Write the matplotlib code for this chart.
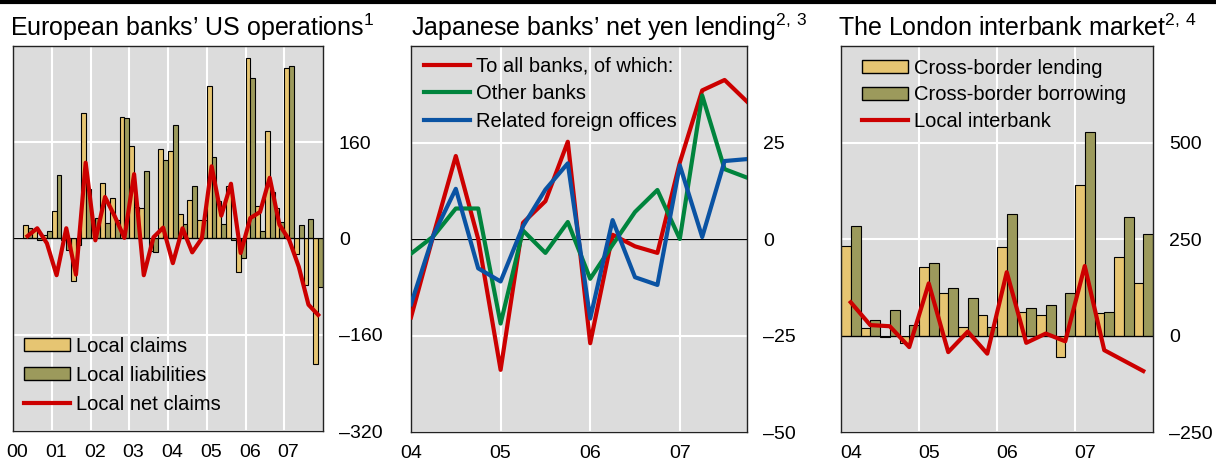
import matplotlib
matplotlib.use('Agg')
from matplotlib import pyplot as plt
from matplotlib.lines import Line2D
from matplotlib.patches import Patch
import numpy as np
import pandas as pd

plt.rcParams['font.family'] = ['Liberation Sans', 'DejaVu Sans']
plt.rcParams['mathtext.fontset'] = 'custom'
plt.rcParams['mathtext.rm'] = 'Liberation Sans'
plt.rcParams['mathtext.default'] = 'regular'

# --- European banks' US operations (quarterly, 2000Q2-2007Q4) ---
eu_quarters = pd.period_range('2000Q2', '2007Q4', freq='Q')
eu_claims = [22, 14, 5.5, 45, -2, -70, 208, 31, 93, 67, 202, 153, 50, -20, 148,
             146, 41, 64, 30, 254, 62, 88, -56, 300, 54, 179, 50, 283, -26, -78, -209]
eu_liabs = [17, -3, 13, 106, -19, -10, 82, 34, 26, 30, 201, 52, 112, -23, 131,
            188, 24, 88, 30, 135, 24, -3, -32, 267, 13, 78, 27, 286, 23, 32, -81]
eu_net = [4, 17, -8, -61, 17, -60, 126, -3, 69, 37, 1, 107, -61, 2, 18,
          -41, 17, -23, 0.5, 120, 38, 91, -24, 34, 44, 101, 23, -2, -47, -110, -127]
eu_years = ['00', '01', '02', '03', '04', '05', '06', '07']

# --- Japanese banks' net yen lending (quarterly, 2004Q1-2007Q4) ---
jp_quarters = pd.period_range('2004Q1', '2007Q4', freq='Q')
jp_all = [-20.3, 1, 21.5, 0, -33.9, 4.2, 9.8, 25.2, -27, 1.1, -1.9, -3.6, 19.8, 38.5, 41.2, 35.6]
jp_other = [-3.8, 0.7, 7.9, 7.9, -21.9, 2.2, -3.6, 4.4, -10.3, -1.5, 7.0, 12.7, 0, 37.2, 18.1, 15.9]
jp_related = [-16.9, 1, 13, -7.6, -11, 3.3, 12.8, 19.6, -20.6, 4.9, -9.9, -11.9, 19.1, 0.5, 20.2, 20.7]
jp_years = ['04', '05', '06', '07']

# --- The London interbank market (quarterly, 2004Q1-2007Q4) ---
ld_quarters = pd.period_range('2004Q1', '2007Q4', freq='Q')
ld_lending = [231, 19, -5, -20, 178, 111, 21, 53, 229, 60, 53, -56, 391, 57, 203, 137]
ld_borrowing = [284, 41, 67, 26, 188, 124, 98, 23, 316, 70, 80, 110, 527, 62, 306, 263]
ld_local = [86, 27, 24, -30, 135, -43, 10, -47, 164, -19, 5, -15, 180, -38, -65, -92]
ld_years = ['04', '05', '06', '07']

C_LIGHT = '#E6C572'
C_OLIVE = '#9C9A5C'
C_RED = '#CC0000'
C_GREEN = '#00843D'
C_BLUE = '#0A53A3'
BG = '#DCDCDC'
W, H = 1216, 465


def qpos(quarters):
    return np.array([p.year + (p.quarter - 1) / 4 for p in quarters])


def fmt(v):
    return str(v).replace('-', '\u2013')


def make_ax(fig, l, r, t, b):
    ax = fig.add_axes([l / W, 1 - b / H, (r - l) / W, (b - t) / H])
    ax.set_facecolor(BG)
    ax.set_axisbelow(True)
    ax.grid(color='white', lw=1.5)
    ax.yaxis.tick_right()
    ax.tick_params(length=0, labelsize=14)
    ax.tick_params(axis='y', pad=11.5)
    ax.tick_params(axis='x', pad=9.5)
    for s in ax.spines.values():
        s.set_color('#222222')
        s.set_linewidth(1)
    ax.axhline(0, color='black', lw=0.9, zorder=2.5)
    return ax


fig = plt.figure(figsize=(W / 100, H / 100), dpi=100)
fig.add_artist(Line2D([0, 1], [0.996, 0.996], color='black', lw=3))

# panel 1
ax1 = make_ax(fig, 13, 323, 46, 431)
x1 = qpos(eu_quarters)
ax1.bar(x1, eu_claims, width=0.125, align='edge', color=C_LIGHT, edgecolor='black', lw=0.8)
ax1.bar(x1 + 0.125, eu_liabs, width=0.125, align='edge', color=C_OLIVE, edgecolor='black', lw=0.8)
ax1.plot(x1 + 0.125, eu_net, color=C_RED, lw=3, zorder=3)
ax1.set_xlim(2000, 2008)
ax1.set_ylim(-320, 320)
yt = [-320, -160, 0, 160]
ax1.set_yticks([-320, -160, 0, 160, 320], [fmt(v) for v in yt] + [''])
ax1.set_xticks(np.arange(2001, 2008), [''] * 7)
ax1.set_xticks(np.arange(2000, 2008) + 0.11, eu_years, minor=True)
ax1.tick_params(which='minor', length=0, labelsize=14, pad=9.5)
ax1.legend(handles=[Patch(facecolor=C_LIGHT, edgecolor='black', label='Local claims'),
                    Patch(facecolor=C_OLIVE, edgecolor='black', label='Local liabilities'),
                    Line2D([], [], color=C_RED, lw=3, label='Local net claims')],
           loc='lower left', bbox_to_anchor=(0.035, 0.045), frameon=False, fontsize=14.5,
           borderpad=0, borderaxespad=0, handlelength=2.3, handleheight=0.6,
           handletextpad=0.3, labelspacing=0.5)
fig.text(10 / W, 1 - 36 / H, 'European banks\u2019 US operations$^{1}$', fontsize=18, va='baseline')

# panel 2
ax2 = make_ax(fig, 411, 747, 46, 432)
x2 = qpos(jp_quarters)
ax2.plot(x2, jp_all, color=C_RED, lw=3, zorder=3, label='To all banks, of which:')
ax2.plot(x2, jp_other, color=C_GREEN, lw=3, zorder=3, label='Other banks')
ax2.plot(x2, jp_related, color=C_BLUE, lw=3, zorder=3, label='Related foreign offices')
ax2.set_xlim(2004, 2007.75)
ax2.set_ylim(-50, 50)
yt = [-50, -25, 0, 25]
ax2.set_yticks([-50, -25, 0, 25, 50], [fmt(v) for v in yt] + [''])
ax2.set_xticks(np.arange(2004, 2008), jp_years)
ax2.legend(loc='upper left', bbox_to_anchor=(0.039, 0.972), frameon=False, fontsize=14.5,
           borderpad=0, borderaxespad=0, handlelength=2.3, handletextpad=0.3,
           labelspacing=0.42)
fig.text(411 / W, 1 - 36 / H, 'Japanese banks\u2019 net yen lending$^{2,\\,3}$', fontsize=18, va='baseline')

# panel 3
ax3 = make_ax(fig, 841, 1153, 46, 432)
x3 = qpos(ld_quarters)
ax3.bar(x3, ld_lending, width=0.125, align='edge', color=C_LIGHT, edgecolor='black', lw=0.8)
ax3.bar(x3 + 0.125, ld_borrowing, width=0.125, align='edge', color=C_OLIVE, edgecolor='black', lw=0.8)
ax3.plot(x3 + 0.125, ld_local, color=C_RED, lw=3, zorder=3)
ax3.set_xlim(2004, 2008)
ax3.set_ylim(-250, 750)
yt = [-250, 0, 250, 500]
ax3.set_yticks([-250, 0, 250, 500, 750], [fmt(v) for v in yt] + [''])
ax3.set_xticks(np.arange(2005, 2008), [''] * 3)
ax3.set_xticks(np.arange(2004, 2008) + 0.125, ld_years, minor=True)
ax3.tick_params(which='minor', length=0, labelsize=14, pad=9.5)
ax3.legend(handles=[Patch(facecolor=C_LIGHT, edgecolor='black', label='Cross-border lending'),
                    Patch(facecolor=C_OLIVE, edgecolor='black', label='Cross-border borrowing'),
                    Line2D([], [], color=C_RED, lw=3, label='Local interbank')],
           loc='upper left', bbox_to_anchor=(0.066, 0.967), frameon=False, fontsize=14.5,
           borderpad=0, borderaxespad=0, handlelength=2.3, handleheight=0.6,
           handletextpad=0.3, labelspacing=0.38)
fig.text(838 / W, 1 - 36 / H, 'The London interbank market$^{2,\\,4}$', fontsize=18, va='baseline')

fig.savefig('out.png', dpi=100)
